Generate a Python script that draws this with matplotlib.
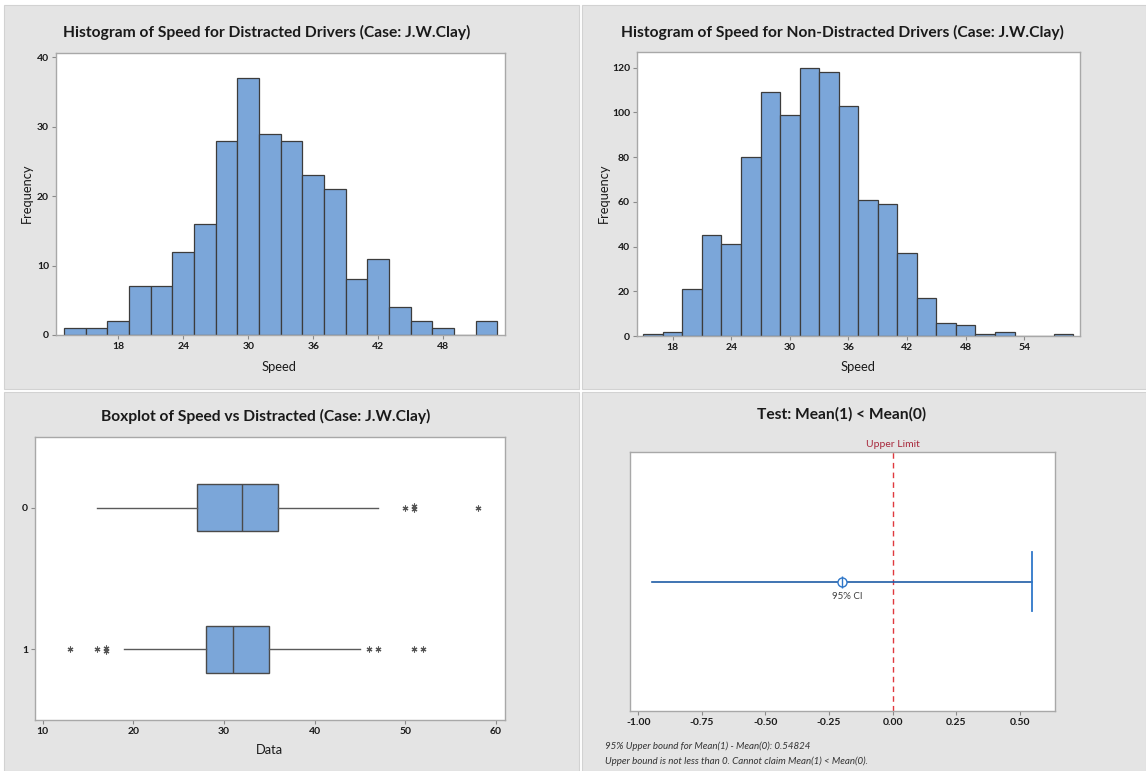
import matplotlib
matplotlib.use("Agg")
import matplotlib.pyplot as plt
from matplotlib.patches import Rectangle
from matplotlib.ticker import FixedLocator, FormatStrFormatter

# ---------------- data ----------------
# Histogram of speed, distracted drivers (bin midpoints, width 2)
dist_mid = [14, 16, 18, 20, 22, 24, 26, 28, 30, 32, 34, 36, 38, 40, 42, 44, 46, 48, 50, 52]
dist_counts = [1, 1, 2, 7, 7, 12, 16, 28, 37, 29, 28, 23, 21, 8, 11, 4, 2, 1, 0, 2]

# Histogram of speed, non-distracted drivers
nondist_mid = [16, 18, 20, 22, 24, 26, 28, 30, 32, 34, 36, 38, 40, 42, 44, 46, 48, 50, 52, 54, 56, 58]
nondist_counts = [1, 2, 21, 45, 41, 80, 109, 99, 120, 118, 103, 61, 59, 37, 17, 6, 5, 1, 2, 0, 0, 1]

hist_ticks = [18, 24, 30, 36, 42, 48]
hist_ticks_nd = [18, 24, 30, 36, 42, 48, 54]

# Boxplot summary: group 0 = not distracted, group 1 = distracted
groups = ["0", "1"]
box_q1 = [27, 28]
box_median = [32, 31]
box_q3 = [36, 35]
whisker_low = [16, 19]
whisker_high = [47, 45]
outliers = [[50, 51, 51, 58], [13, 16, 17, 17, 46, 47, 51, 52]]
box_ticks = [10, 20, 30, 40, 50, 60]

# One-sided two-sample t-test, Mean(1) - Mean(0)
diff_estimate = -0.2
upper_bound = 0.54824
ci_ticks = [-1.00, -0.75, -0.50, -0.25, 0.00, 0.25, 0.50]

# ---------------- style ----------------
W, H = 1146, 771
FONT = "Lato"
plt.rcParams["font.family"] = [FONT, "DejaVu Sans"]
BAR = "#7ba6d9"
EDGE = "#3c3c3c"
PANEL = "#e4e4e4"
SPINE = "#a8a8a8"
TXT = "#1a1a1a"

fig = plt.figure(figsize=(W / 100, H / 100), dpi=100)
fig.patch.set_facecolor("white")


def fx(px):
    return px / W


def fy(py):
    return 1 - py / H


def add_ax(l, t, r, b):
    ax = fig.add_axes([fx(l), fy(b), (r - l) / W, (b - t) / H])
    ax.set_facecolor("white")
    for s in ax.spines.values():
        s.set_color(SPINE)
        s.set_linewidth(1.0)
    ax.tick_params(direction="out", length=3, width=0.8, color="#8a8a8a",
                   labelsize=7.5, labelcolor=TXT, pad=2)
    for lab in ax.get_xticklabels() + ax.get_yticklabels():
        lab.set_fontweight("bold")
    return ax


# grey panels
for (x0, y0, x1, y1) in [(4, 5, 579, 389), (582, 5, 1146, 389),
                         (4, 392, 579, 771), (582, 392, 1146, 771)]:
    fig.add_artist(Rectangle((fx(x0), fy(y1)), (x1 - x0) / W, (y1 - y0) / H,
                             transform=fig.transFigure, facecolor=PANEL,
                             edgecolor="#d2d2d2", linewidth=0.8, zorder=0))

renderer = fig.canvas.get_renderer()


def fitted_size(s, width_px, **kw):
    t = fig.text(0, 0, s, fontsize=12, **kw)
    w = t.get_window_extent(renderer).width
    t.remove()
    return 12 * width_px / w


TITLE_KW = dict(fontweight="bold")
TITLE_SIZE = fitted_size("Histogram of Speed for Distracted Drivers (Case: J.W.Clay)", 406, **TITLE_KW)
LABEL_SIZE = fitted_size("Speed", 35)


def title_text(xc, yc, s):
    fig.text(fx(xc), fy(yc), s, ha="center", va="center", fontsize=TITLE_SIZE,
             color=TXT, **TITLE_KW)


def label(xc, yc, s, rot=0):
    fig.text(fx(xc), fy(yc), s, ha="center", va="center", fontsize=LABEL_SIZE,
             color=TXT, rotation=rot)


title_text(267, 32, "Histogram of Speed for Distracted Drivers (Case: J.W.Clay)")
title_text(842, 32, "Histogram of Speed for Non-Distracted Drivers (Case: J.W.Clay)")
title_text(266, 416, "Boxplot of Speed vs Distracted (Case: J.W.Clay)")
title_text(842, 414, "Test: Mean(1) < Mean(0)")

# ---------------- histogram: distracted ----------------
ax1 = add_ax(56, 53, 505, 335)
ax1.bar(dist_mid, dist_counts, width=2, color=BAR, edgecolor=EDGE, linewidth=0.9)
ax1.set_xlim(12.25, 53.7)
ax1.set_ylim(0, 40.6)
ax1.xaxis.set_major_locator(FixedLocator(hist_ticks))
ax1.yaxis.set_major_locator(FixedLocator([0, 10, 20, 30, 40]))
label(27, 193, "Frequency", 90)
label(279, 367, "Speed")

# ---------------- histogram: non-distracted ----------------
ax2 = add_ax(637, 52, 1080, 336)
ax2.bar(nondist_mid, nondist_counts, width=2, color=BAR, edgecolor=EDGE, linewidth=0.9)
ax2.set_xlim(14.35, 59.7)
ax2.set_ylim(0, 127)
ax2.xaxis.set_major_locator(FixedLocator(hist_ticks_nd))
ax2.yaxis.set_major_locator(FixedLocator([0, 20, 40, 60, 80, 100, 120]))
label(604, 193, "Frequency", 90)
label(858, 367, "Speed")

# ---------------- boxplot ----------------
ax3 = add_ax(35, 437, 505, 720)
stats = []
for i, g in enumerate(groups):
    stats.append(dict(label=g, q1=box_q1[i], med=box_median[i], q3=box_q3[i],
                      whislo=whisker_low[i], whishi=whisker_high[i], fliers=[]))
ax3.bxp(stats, positions=[0, 1], widths=0.335, orientation="horizontal",
        showfliers=False, showcaps=False, patch_artist=True,
        boxprops=dict(facecolor=BAR, edgecolor="#4a4a4a", linewidth=1.0),
        medianprops=dict(color="#4a4a4a", linewidth=1.0),
        whiskerprops=dict(color="#5a5a5a", linewidth=1.0))
STAR = (6, 2, 0)
STAR_KW = dict(linestyle="none", marker=STAR, markersize=4.2,
               markeredgecolor="#555555", markeredgewidth=0.8)
for i, vals in enumerate(outliers):
    seen = {}
    for v in vals:
        seen[v] = seen.get(v, 0) + 1
    for v, n in seen.items():
        if n == 1:
            ax3.plot([v], [i], **STAR_KW)
        else:
            ax3.plot([v, v], [i - 0.012, i + 0.012], **STAR_KW)
ax3.set_ylim(1.5, -0.5)
ax3.set_xlim(9.15, 61.0)
ax3.xaxis.set_major_locator(FixedLocator(box_ticks))
ax3.set_yticks([0, 1])
ax3.set_yticklabels(groups, fontweight="bold")
label(269, 750, "Data")

# ---------------- test plot ----------------
ax4 = add_ax(630, 452, 1055, 711)
ax4.set_xlim(-1.033, 0.639)
ax4.set_ylim(0, 1)
ax4.set_yticks([])
ax4.xaxis.set_major_locator(FixedLocator(ci_ticks))
ax4.xaxis.set_major_formatter(FormatStrFormatter("%.2f"))
for lab in ax4.get_xticklabels():
    lab.set_fontweight("bold")
ax4.axvline(0, color="#e0393e", linestyle=(0, (4, 3)), linewidth=1.0)
ax4.text(0, 1.012, "Upper Limit", transform=ax4.get_xaxis_transform(),
         ha="center", va="bottom", fontsize=7.5, color="#a8283c")
lower_extent = diff_estimate - (upper_bound - diff_estimate)
ax4.plot([lower_extent, upper_bound], [0.5, 0.5], color="#1f5ca6", linewidth=1.2)
ax4.plot([upper_bound, upper_bound], [0.387, 0.613], color="#2f77c9", linewidth=1.3)
ax4.plot([diff_estimate], [0.5], marker="o", markersize=6.5, markerfacecolor="white",
         markeredgecolor="#2f77c9", markeredgewidth=1.0, zorder=4)
ax4.plot([diff_estimate], [0.5], marker="|", markersize=8, markeredgecolor="#2f77c9",
         markeredgewidth=1.0, zorder=5)
ax4.annotate("95% CI", xy=(diff_estimate, 0.5), xytext=(4, -11), textcoords="offset points",
             ha="center", va="center", fontsize=7, color="#404040")

fig.text(fx(605), fy(746), "95% Upper bound for Mean(1) - Mean(0): 0.54824",
         ha="left", va="center", fontsize=7, style="italic", color="#333333")
fig.text(fx(605), fy(761), "Upper bound is not less than 0. Cannot claim Mean(1) < Mean(0).",
         ha="left", va="center", fontsize=7, style="italic", color="#333333")

fig.savefig("out.png", dpi=100, facecolor=fig.get_facecolor())
